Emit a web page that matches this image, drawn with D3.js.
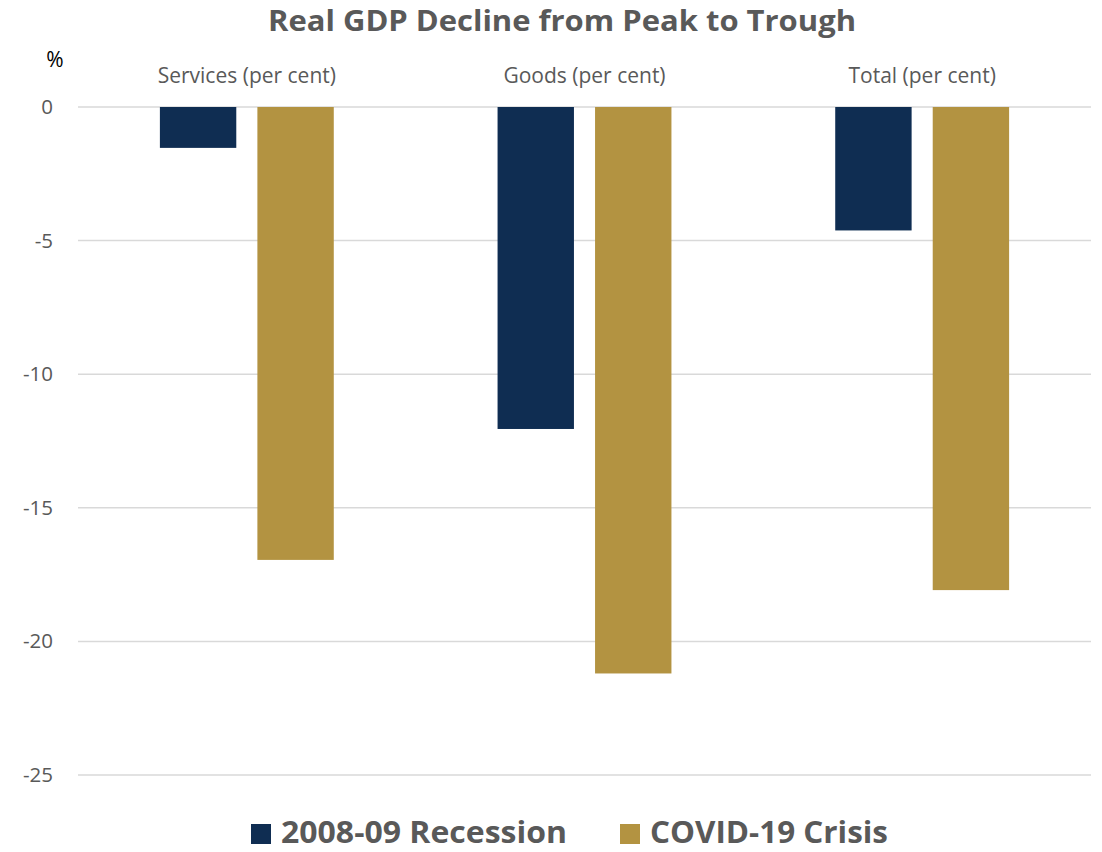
<!DOCTYPE html>
<html><head><meta charset="utf-8">
<script src="https://cdn.jsdelivr.net/npm/d3@7"></script>
<style>body{margin:0;background:#fff;} svg{display:block;}</style>
</head><body>
<svg id="c" width="1102" height="852"></svg>
<script>
const categories = ["Services (per cent)", "Goods (per cent)", "Total (per cent)"];
const seriesNames = ["2008-09 Recession", "COVID-19 Crisis"];
const recession0809 = [-1.53, -12.05, -4.62];
const covid19 = [-16.95, -21.2, -18.08];
const yTicks = [0, -5, -10, -15, -20, -25];
const colors = ["#0f2d52", "#b39341"];

const svg = d3.select("#c");
const font = "'Open Sans', 'Noto Sans', sans-serif";
const mLeft = 78, mRight = 1091, mTop = 107, mBottom = 775;

const x = d3.scaleBand().domain(categories).range([mLeft, mRight]).paddingInner(0).paddingOuter(0);
const xs = d3.scaleBand().domain(seriesNames).range([0, x.bandwidth()]).paddingInner(0.2165).paddingOuter(0.84);
const y = d3.scaleLinear().domain([0, -25]).range([mTop, mBottom]);

// gridlines
svg.append("g").selectAll("line").data(yTicks).join("line")
  .attr("x1", mLeft).attr("x2", mRight)
  .attr("y1", d => y(d)).attr("y2", d => y(d))
  .attr("stroke", "#d9d9d9").attr("stroke-width", 1.5);

// y axis labels
const yAxis = d3.axisLeft(y).tickValues(yTicks).tickSize(0).tickPadding(0).tickFormat(d3.format("d"));
const ga = svg.append("g").attr("transform", `translate(53,0)`).call(yAxis);
ga.select(".domain").remove();
ga.selectAll("text").attr("font-family", font).attr("font-size", 20.5).attr("fill", "#595959")
  .text(d => d === 0 ? "0" : "-" + Math.abs(d));

svg.append("text").attr("x", 55).attr("y", 67).attr("text-anchor", "middle")
  .attr("font-family", font).attr("font-size", 21).attr("fill", "#000").text("%");

// category labels
svg.append("g").selectAll("text").data(categories).join("text")
  .attr("x", d => x(d) + x.bandwidth() / 2).attr("y", 83)
  .attr("text-anchor", "middle").attr("font-family", font).attr("font-size", 21)
  .attr("fill", "#595959").text(d => d);

// bars
const data = [recession0809, covid19];
seriesNames.forEach((s, si) => {
  svg.append("g").selectAll("rect").data(categories).join("rect")
    .attr("x", (c) => x(c) + xs(s))
    .attr("width", xs.bandwidth())
    .attr("y", y(0))
    .attr("height", (c, i) => y(data[si][i]) - y(0))
    .attr("fill", colors[si]);
});

// title
svg.append("text").attr("x", 562).attr("y", 31).attr("text-anchor", "middle")
  .attr("font-family", font).attr("font-weight", "bold").attr("font-size", 29)
  .attr("fill", "#595959").attr("textLength", 588).attr("lengthAdjust", "spacingAndGlyphs")
  .text("Real GDP Decline from Peak to Trough");

// legend
const legendX = [251, 620];
const legendW = [286, 238];
seriesNames.forEach((s, i) => {
  svg.append("rect").attr("x", legendX[i]).attr("y", 824).attr("width", 20).attr("height", 20).attr("fill", colors[i]);
  svg.append("text").attr("x", legendX[i] + 30).attr("y", 843)
    .attr("font-family", font).attr("font-weight", "bold").attr("font-size", 31)
    .attr("fill", "#595959").attr("textLength", legendW[i]).attr("lengthAdjust", "spacingAndGlyphs")
    .text(s);
});
</script>
</body></html>
